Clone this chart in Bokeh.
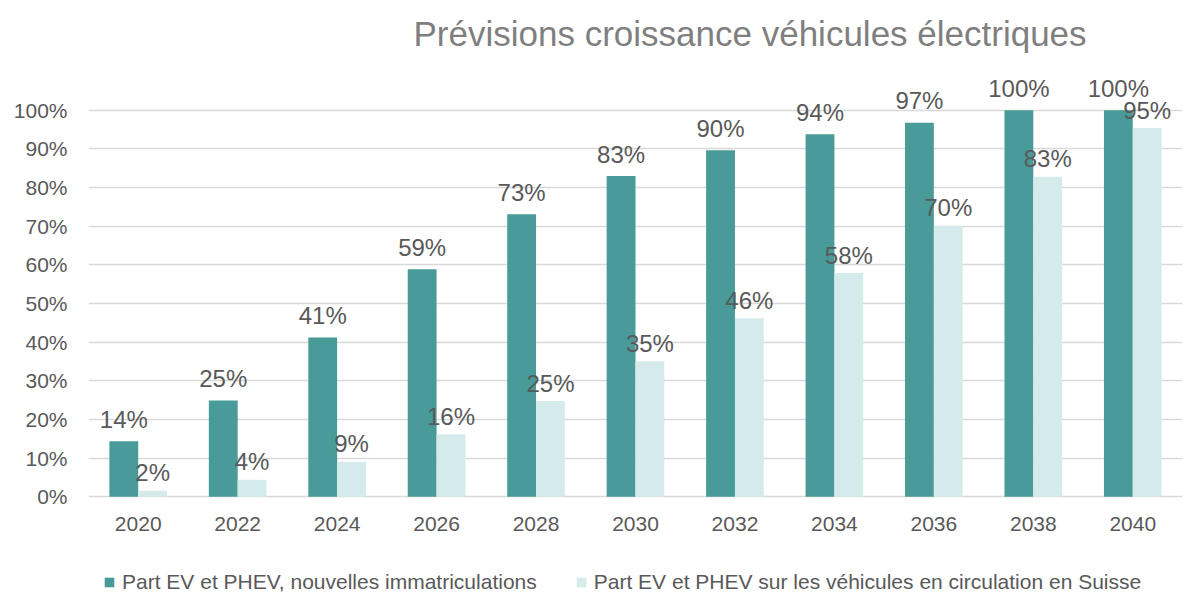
from bokeh.plotting import figure
from bokeh.models import ColumnDataSource, FactorRange, Range1d, Legend, LegendItem, NumeralTickFormatter, Title
from bokeh.transform import dodge
from bokeh.core.properties import value
from bokeh.embed import file_html
from bokeh.resources import INLINE

years = ["2020", "2022", "2024", "2026", "2028", "2030", "2032", "2034", "2036", "2038", "2040"]
new_reg = [14.4, 24.9, 41.2, 58.9, 73.1, 83.0, 89.7, 93.8, 96.8, 100.0, 100.0]
fleet = [1.6, 4.4, 9.1, 16.2, 24.8, 35.1, 46.2, 57.9, 70.1, 82.8, 95.4]
series_names = ["Part EV et PHEV, nouvelles immatriculations",
                "Part EV et PHEV sur les véhicules en circulation en Suisse"]
title_text = "Prévisions croissance véhicules électriques"
yticks = [0, 10, 20, 30, 40, 50, 60, 70, 80, 90, 100]

DARK = "#489b98"
LIGHT = "#d5ebeb"
TXT = "#595959"
FONT = "Liberation Sans"

src = ColumnDataSource(dict(
    year=years,
    zero=[0] * len(years),
    a=[v / 100 for v in new_reg],
    b=[v / 100 for v in fleet],
    la=[f"{round(v)}%" for v in new_reg],
    lb=[f"{round(v)}%" for v in fleet],
))

# frame: 62..594 px; 0% at 496 px, 100% at 108 px (388 px per 100%)
p = figure(x_range=FactorRange(*years), y_range=Range1d(-98 / 388, 1 + 46 / 388),
           width=1186, height=594, output_backend="svg", toolbar_location=None,
           min_border_left=88, min_border_right=4, min_border_bottom=0, min_border_top=62)

p.title = Title(text=title_text, text_font=FONT, text_font_size="35px",
                text_color="#7f7f7f", text_font_style="normal", align="left", offset=325,
                standoff=23)

r1 = p.vbar(x=dodge("year", -0.145, range=p.x_range), top="a", width=0.29,
            source=src, fill_color=DARK, line_color=None)
r2 = p.vbar(x=dodge("year", 0.145, range=p.x_range), top="b", width=0.29,
            source=src, fill_color=LIGHT, line_color=None)

p.text(x=dodge("year", -0.145, range=p.x_range), y="a", text="la", source=src,
       text_align="center", text_baseline="alphabetic", y_offset=-22,
       text_font=value(FONT), text_font_size="24px", text_color=TXT)
p.text(x=dodge("year", 0.145, range=p.x_range), y="b", text="lb", source=src,
       text_align="center", text_baseline="alphabetic", y_offset=-18,
       text_font=value(FONT), text_font_size="24px", text_color=TXT)

# category labels under the 0% line
p.text(x="year", y="zero", text="year", source=src,
       text_align="center", text_baseline="middle", y_offset=27,
       text_font=value(FONT), text_font_size="21px", text_color=TXT)

p.xaxis.visible = False
p.yaxis.ticker = [v / 100 for v in yticks]
p.yaxis.formatter = NumeralTickFormatter(format="0%")
ax = p.yaxis
ax.axis_line_color = None
ax.major_tick_line_color = None
ax.minor_tick_line_color = None
ax.major_tick_out = 0
ax.major_tick_in = 0
ax.minor_tick_out = 0
ax.major_label_text_font = FONT
ax.major_label_text_font_size = "21px"
ax.major_label_text_color = TXT
ax.major_label_standoff = 21
p.xgrid.grid_line_color = None
p.ygrid.grid_line_color = "#d9d9d9"
p.ygrid.grid_line_width = 1.5
p.outline_line_color = None

legend = Legend(items=[LegendItem(label=series_names[0], renderers=[r1]),
                       LegendItem(label=series_names[1], renderers=[r2])],
                orientation="horizontal", location=(15, 0),
                label_text_font=FONT, label_text_font_size="21px", label_text_color=TXT,
                glyph_width=12, glyph_height=12, spacing=38, label_standoff=7,
                padding=0, margin=0, border_line_color=None, background_fill_alpha=0)
p.add_layout(legend, "center")

open("out.html", "w").write(file_html(p, INLINE))
